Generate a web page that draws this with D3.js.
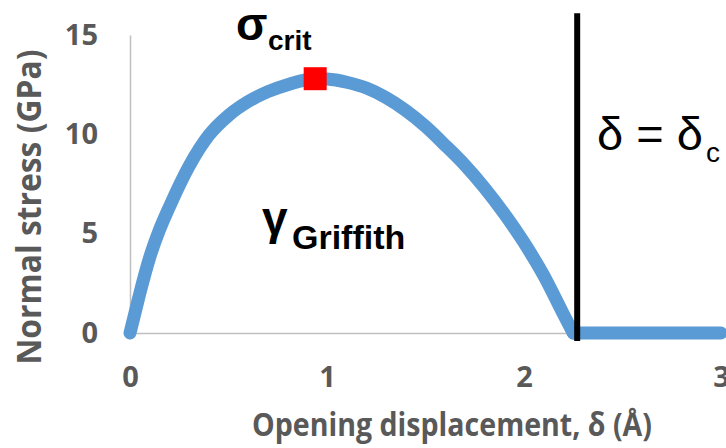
<!DOCTYPE html>
<html>
<head>
<meta charset="utf-8">
<script src="https://cdn.jsdelivr.net/npm/d3@7"></script>
<style>
  html, body { margin: 0; padding: 0; background: #fff; }
  svg { display: block; }
</style>
</head>
<body>
<svg id="chart" width="726" height="448"></svg>
<script>
"use strict";

// traction-separation curve: opening displacement (Å) vs normal stress (GPa)
const openingCurve = [0, 0.02, 0.05, 0.1, 0.15, 0.2, 0.3, 0.4, 0.5, 0.6, 0.7, 0.8, 0.94, 1.0, 1.1, 1.2, 1.3, 1.4, 1.5, 1.6, 1.7, 1.8, 1.9, 2.0, 2.1, 2.2, 2.25];
const stressCurve  = [0, 0.8, 2.0, 3.8, 5.2, 6.35, 8.4, 9.95, 10.95, 11.65, 12.15, 12.5, 12.8, 12.78, 12.62, 12.33, 11.85, 11.2, 10.4, 9.45, 8.45, 7.3, 6.0, 4.55, 2.9, 0.95, 0];

// fully separated part (zero stress)
const openingFlat = [2.25, 2.5, 2.75, 3.0];
const stressFlat  = [0, 0, 0, 0];

// critical stress marker and critical opening line
const peakOpening = 0.94;
const peakStress = 12.8;
const criticalOpening = 2.27;
const criticalLineStress = [-0.4, 16.1];

const xTicks = [0, 1, 2, 3];
const yTicks = [0, 5, 10, 15];

const svg = d3.select("#chart");

// plot area
const x = d3.scaleLinear().domain([0, 3]).range([130, 721]);
const y = d3.scaleLinear().domain([0, 15]).range([333, 35]);

const gray = "#595959";
const blue = "#5b9bd5";
const axisFont = "'Open Sans', Lato, sans-serif";

// y axis
const yAxis = svg.append("g")
    .attr("transform", "translate(" + x(0) + ",0)")
    .call(d3.axisLeft(y).tickValues(yTicks).tickFormat(d3.format("d"))
        .tickSize(0).tickSizeOuter(0).tickPadding(32));
yAxis.select(".domain").attr("stroke", "#bfbfbf").attr("stroke-width", 1.5);
yAxis.selectAll("text")
    .attr("font-family", axisFont)
    .attr("font-weight", "bold")
    .attr("font-size", 29)
    .attr("fill", gray);

// x axis
const xAxis = svg.append("g")
    .attr("transform", "translate(0," + y(0) + ")")
    .call(d3.axisBottom(x).tickValues(xTicks).tickFormat(d3.format("d"))
        .tickSize(0).tickSizeOuter(0).tickPadding(33));
xAxis.select(".domain").attr("stroke", "#bfbfbf").attr("stroke-width", 1.5);
xAxis.selectAll("text")
    .attr("font-family", axisFont)
    .attr("font-weight", "bold")
    .attr("font-size", 29)
    .attr("fill", gray);

// axis titles
svg.append("text")
    .attr("transform", "translate(41,207) rotate(-90)")
    .attr("text-anchor", "middle")
    .attr("font-family", axisFont)
    .attr("font-weight", "bold")
    .attr("font-size", 34)
    .attr("fill", gray)
    .attr("textLength", 315)
    .attr("lengthAdjust", "spacingAndGlyphs")
    .text("Normal stress (GPa)");

svg.append("text")
    .attr("x", 452)
    .attr("y", 436)
    .attr("text-anchor", "middle")
    .attr("font-family", axisFont)
    .attr("font-weight", "bold")
    .attr("font-size", 32)
    .attr("fill", gray)
    .attr("textLength", 400)
    .attr("lengthAdjust", "spacingAndGlyphs")
    .text("Opening displacement, \u03b4 (\u00c5)");

// curve
const line = d3.line()
    .x(d => x(d[0]))
    .y(d => y(d[1]))
    .curve(d3.curveMonotoneX);

const curveData = openingCurve.map((d, i) => [d, stressCurve[i]]);
const flatData = openingFlat.map((d, i) => [d, stressFlat[i]]);

[curveData, flatData].forEach(series => {
    svg.append("path")
        .datum(series)
        .attr("d", line)
        .attr("fill", "none")
        .attr("stroke", blue)
        .attr("stroke-width", 13)
        .attr("stroke-linecap", "round")
        .attr("stroke-linejoin", "round");
});

// critical opening line
svg.append("line")
    .attr("x1", x(criticalOpening))
    .attr("x2", x(criticalOpening))
    .attr("y1", y(criticalLineStress[0]))
    .attr("y2", y(criticalLineStress[1]))
    .attr("stroke", "#000")
    .attr("stroke-width", 6);

// peak marker
const markerSize = 23;
svg.append("rect")
    .attr("x", x(peakOpening) - markerSize / 2)
    .attr("y", y(peakStress) - markerSize / 2)
    .attr("width", markerSize)
    .attr("height", markerSize)
    .attr("fill", "#ff0000");

// annotations
const ann = "'Liberation Sans', Arial, sans-serif";
function label(tx, ty, size, weight, str) {
    svg.append("text")
        .attr("x", tx)
        .attr("y", ty)
        .attr("font-family", ann)
        .attr("font-weight", weight)
        .attr("font-size", size)
        .attr("fill", "#000")
        .text(str);
}
label(236, 40, 46, "bold", "\u03c3");
label(268, 50, 28, "bold", "crit");
label(262, 234, 46, "bold", "\u03b3");
label(292, 249, 34, "bold", "Griffith");
label(597, 150, 47, "normal", "\u03b4 = \u03b4");
label(706, 162, 28, "normal", "c");
</script>
</body>
</html>
